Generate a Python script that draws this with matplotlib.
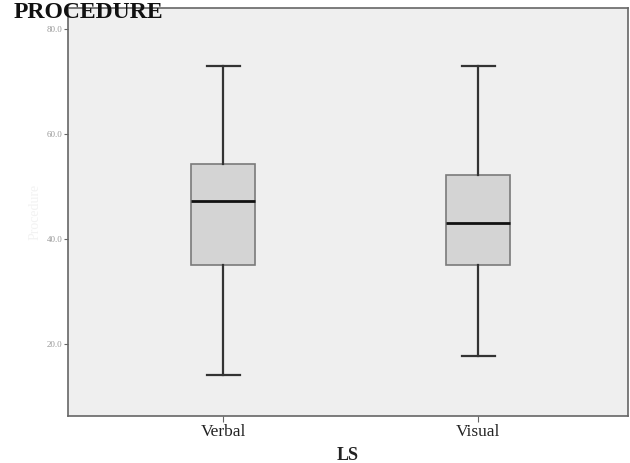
import matplotlib

matplotlib.use("Agg")

import matplotlib.pyplot as plt

C_PANEL = "#efefef"
C_BOX = "#d4d4d4"
C_EDGE = "#7a7a7a"
C_INK = "#222222"

groups = ["Verbal", "Visual"]
whis_lo = [14.1, 17.7]
q1 = [35.0, 35.0]
med = [47.2, 43.0]
q3 = [54.3, 52.2]
whis_hi = [73.0, 73.0]
y_ticks = [20.0, 40.0, 60.0, 80.0]

stats = [
    dict(label=g, whislo=lo, q1=a, med=m, q3=b, whishi=hi, fliers=[])
    for g, lo, a, m, b, hi in zip(groups, whis_lo, q1, med, q3, whis_hi)
]

fig = plt.figure(figsize=(6.3, 4.63), dpi=100)
ax = fig.add_axes([0.108, 0.1015, 0.889, 0.8815])
ax.set_facecolor(C_PANEL)

ax.bxp(
    stats,
    positions=[1, 2],
    widths=0.25,
    patch_artist=True,
    boxprops=dict(facecolor=C_BOX, edgecolor=C_EDGE, lw=1.2),
    medianprops=dict(color="#111111", lw=2.0),
    whiskerprops=dict(color="#333333", lw=1.6),
    capprops=dict(color="#333333", lw=1.6),
    capwidths=0.13,
)

ax.set_xlim(0.392, 2.588)
ax.set_ylim(6.3, 84.0)
ax.set_yticks(y_ticks)
ax.set_yticklabels([f"{t:.1f}" for t in y_ticks], fontsize=6.5, color="#999999",
                   family="Liberation Serif")
ax.set_xticks([1, 2])
ax.set_xticklabels(groups, fontsize=12.5, family="Liberation Serif", color=C_INK)
ax.tick_params(axis="y", length=3, color="#666666", pad=1)
ax.tick_params(axis="x", length=4, color="#666666", pad=2)
for spine in ax.spines.values():
    spine.set_color("#666666")
    spine.set_linewidth(1.2)

ax.set_xlabel("LS", fontsize=13, weight="bold", family="Liberation Serif",
              color=C_INK, labelpad=5)
ax.set_ylabel("Procedure", fontsize=10, color="#f2f2f2", family="Liberation Serif")
fig.text(0.022, 0.972, "PROCEDURE", fontsize=17, weight="bold",
         family="Liberation Serif", color="#111111", va="center")

fig.savefig("out.png", dpi=100, facecolor="white")
